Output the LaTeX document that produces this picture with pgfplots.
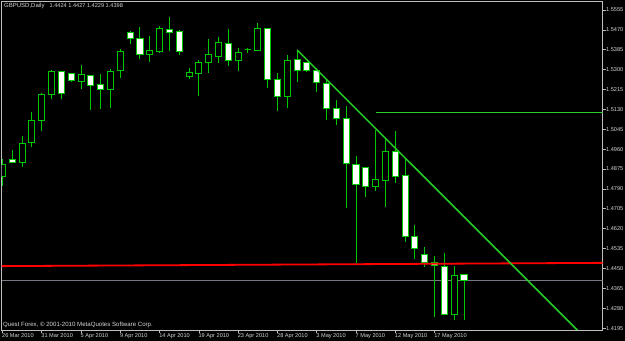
\documentclass[border=0pt]{standalone}
\usepackage{pgfplots}
\pgfplotsset{compat=1.18}
\usepackage{pgfplotstable}
\usepackage{fontspec}
\setmainfont{Liberation Sans}
\definecolor{mtgreen}{RGB}{0,200,0}
\definecolor{linegreen}{RGB}{40,205,40}
\definecolor{framegrey}{RGB}{190,190,190}
\definecolor{txtgrey}{RGB}{215,215,215}
\definecolor{bidgrey}{RGB}{120,120,130}

\pgfplotstableread{
i o h l c
0 1.4841 1.4918 1.4803 1.4893
1 1.4914 1.4957 1.4901 1.4905
2 1.4905 1.5017 1.4884 1.4982
3 1.4987 1.5119 1.4970 1.5081
4 1.5081 1.5200 1.5038 1.5192
5 1.5192 1.5299 1.5175 1.5290
6 1.5290 1.5294 1.5175 1.5196
7 1.5282 1.5286 1.5247 1.5252
8 1.5247 1.5320 1.5217 1.5277
9 1.5273 1.5277 1.5128 1.5230
10 1.5235 1.5282 1.5132 1.5217
11 1.5217 1.5303 1.5136 1.5290
12 1.5294 1.5388 1.5264 1.5376
13 1.5457 1.5465 1.5410 1.5431
14 1.5431 1.5482 1.5346 1.5363
15 1.5363 1.5444 1.5333 1.5380
16 1.5376 1.5487 1.5371 1.5474
17 1.5470 1.5525 1.5380 1.5457
18 1.5461 1.5470 1.5363 1.5376
19 1.5269 1.5307 1.5260 1.5286
20 1.5282 1.5341 1.5187 1.5329
21 1.5329 1.5431 1.5286 1.5363
22 1.5354 1.5440 1.5329 1.5414
23 1.5410 1.5474 1.5316 1.5337
24 1.5337 1.5393 1.5294 1.5371
25 1.5384 1.5393 1.5371 1.5384
26 1.5380 1.5499 1.5380 1.5474
27 1.5474 1.5474 1.5222 1.5256
28 1.5256 1.5286 1.5123 1.5187
29 1.5187 1.5363 1.5136 1.5337
30 1.5341 1.5384 1.5247 1.5294
31 1.5329 1.5333 1.5290 1.5294
32 1.5294 1.5307 1.5205 1.5243
33 1.5239 1.5260 1.5085 1.5132
34 1.5132 1.5170 1.5064 1.5093
35 1.5093 1.5145 1.4709 1.4897
36 1.4893 1.4931 1.4474 1.4807
37 1.4880 1.4880 1.4756 1.4799
38 1.4799 1.5042 1.4782 1.4829
39 1.4824 1.5004 1.4713 1.4948
40 1.4948 1.5038 1.4816 1.4841
41 1.4846 1.4918 1.4564 1.4585
42 1.4585 1.4636 1.4491 1.4534
43 1.4508 1.4542 1.4457 1.4474
44 1.4474 1.4504 1.4243 1.4461
45 1.4457 1.4517 1.4252 1.4252
46 1.4252 1.4461 1.4230 1.4419
47 1.4424 1.4427 1.4229 1.4398
}\candles

\pgfplotstableread{
x y
-0.1 1.4460
61.1 1.4474
}\redline

\pgfplotstableread{
x y
38 1.5117
61.1 1.5117
}\greenhline

\pgfplotstableread{
x y
30 1.5384
61.1 1.4079
}\trendline

\pgfplotstableread{
x y
-0.1 1.4398
61.1 1.4398
}\bidline

\begin{document}
\begin{tikzpicture}
\fill[black] (0,0) rectangle (625bp,341bp);
\begin{axis}[
  at={(1.5bp,11bp)}, anchor=south west,
  width=601bp, height=328.5bp, scale only axis,
  xmin=-0.1, xmax=61.1, ymin=1.4187, ymax=1.5591,
  axis background/.style={fill=black},
  axis line style={framegrey, line width=0.8bp},
  xtick={0,4,8,12,16,20,24,28,32,36,40,44},
  xticklabels={26 Mar 2010,31 Mar 2010,5 Apr 2010,9 Apr 2010,14 Apr 2010,19 Apr 2010,23 Apr 2010,28 Apr 2010,3 May 2010,7 May 2010,12 May 2010,17 May 2010},
  ytick={1.4195,1.4280,1.4365,1.4450,1.4535,1.4620,1.4705,1.4790,1.4875,1.4960,1.5045,1.5130,1.5215,1.5300,1.5385,1.5470,1.5555},
  yticklabels={1.4195,1.4280,1.4365,1.4450,1.4535,1.4620,1.4705,1.4790,1.4875,1.4960,1.5045,1.5130,1.5215,1.5300,1.5385,1.5470,1.5555},
  xtick pos=lower, ytick pos=right, yticklabel pos=right,
  tick align=outside,
  major tick length=3bp,
  tick style={framegrey, line width=0.6bp},
  xticklabel style={anchor=north west, font=\fontsize{5.6bp}{6bp}\selectfont, text=txtgrey, inner sep=0pt, xshift=-0.5bp, yshift=-0.5bp},
  yticklabel style={anchor=west, font=\fontsize{5.6bp}{6bp}\selectfont, text=txtgrey, inner sep=0pt, xshift=0.5bp},
  wick/.style={mtgreen, line width=1bp, mark=none},
  body/.style={draw=mtgreen, line width=1bp, mark=none},
]
\addplot[bidgrey, line width=0.7bp, mark=none] table[x=x,y=y] {\bidline};
\pgfplotsinvokeforeach{0,...,47}{%
  \pgfplotstablegetelem{#1}{o}\of\candles \let\cO\pgfplotsretval
  \pgfplotstablegetelem{#1}{h}\of\candles \let\cH\pgfplotsretval
  \pgfplotstablegetelem{#1}{l}\of\candles \let\cL\pgfplotsretval
  \pgfplotstablegetelem{#1}{c}\of\candles \let\cC\pgfplotsretval
  \pgfmathsetmacro\xa{#1-0.31}%
  \pgfmathsetmacro\xb{#1+0.31}%
  \pgfmathtruncatemacro\isbear{(\cC<\cO) ? 1 : 0}%
  \ifnum\isbear=1 \def\bfill{white}\else\def\bfill{black}\fi
  \edef\tmp{\noexpand\addplot[wick] coordinates {(#1,\cL) (#1,\cH)};
    \noexpand\addplot[body,fill=\bfill] coordinates {(\xa,\cO) (\xb,\cO) (\xb,\cC) (\xa,\cC)} --cycle;}%
  \tmp
}
\addplot[red, line width=1.8bp, mark=none] table[x=x,y=y] {\redline};
\addplot[linegreen, line width=1.6bp, mark=none] table[x=x,y=y] {\greenhline};
\addplot[linegreen, line width=1.5bp, mark=none] table[x=x,y=y] {\trendline};
\node[anchor=west, fill=white, text=black, inner sep=0.8bp, font=\fontsize{5.6bp}{6bp}\selectfont, xshift=3.5bp] at (axis cs:61.1,1.4398) {1.4398};
\end{axis}
\node[anchor=west, inner sep=0pt, text=txtgrey, font=\fontsize{6bp}{7bp}\selectfont] at (4bp,335bp) {GBPUSD,Daily};
\node[anchor=west, inner sep=0pt, text=txtgrey, font=\fontsize{5.6bp}{6bp}\selectfont] at (49.5bp,335bp) {1.4424 1.4427 1.4229 1.4398};
\node[anchor=west, inner sep=0pt, text=txtgrey, font=\fontsize{6.1bp}{7bp}\selectfont] at (3bp,16bp) {Quest Forex, © 2001-2010 MetaQuotes Software Corp.};
\pgfresetboundingbox
\path[use as bounding box] (0,0) rectangle (625bp,341bp);
\end{tikzpicture}
\end{document}
